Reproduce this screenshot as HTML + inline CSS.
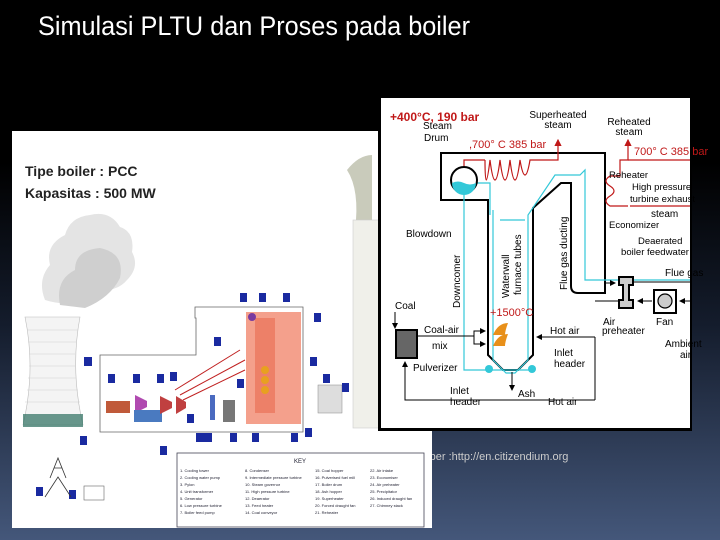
<!DOCTYPE html>
<html><head><meta charset="utf-8"><style>
html,body{margin:0;padding:0;width:720px;height:540px;overflow:hidden;background:#000}
svg{display:block}
text{font-family:"Liberation Sans",sans-serif}
</style></head><body>
<svg width="720" height="540" viewBox="0 0 720 540" xmlns="http://www.w3.org/2000/svg">
<defs>
<linearGradient id="bg" x1="0" y1="0" x2="0" y2="1">
<stop offset="0" stop-color="#000"/><stop offset="0.3" stop-color="#000"/><stop offset="0.6" stop-color="#141c2c"/><stop offset="1" stop-color="#44577a"/>
</linearGradient>
<marker id="ab" markerWidth="6" markerHeight="6" refX="5" refY="3" orient="auto"><path d="M0,0L6,3L0,6z" fill="#000"/></marker>
<marker id="ar" markerWidth="6" markerHeight="6" refX="5" refY="3" orient="auto"><path d="M0,0L6,3L0,6z" fill="#c01818"/></marker>
</defs>
<rect width="720" height="540" fill="url(#bg)"/>
<text x="38" y="35" fill="#fff" font-family="Liberation Serif,serif" font-size="27" textLength="432" lengthAdjust="spacingAndGlyphs">Simulasi PLTU dan Proses pada boiler</text>
<text x="407" y="460" fill="#ccc" font-family="Liberation Serif,serif" font-size="11">Sumber :http://en.citizendium.org</text>

<rect x="12" y="131" width="420" height="397" fill="#fff"/>
<path d="M45,300 q-8,-20 5,-35 q-5,-20 15,-30 q5,-18 25,-20 q20,-5 30,12 q15,5 12,25 q8,15 -5,28 q-10,12 -30,10 q-20,20 -52,10z" fill="#e4e4e4"/>
<path d="M60,305 q-5,-25 15,-35 q0,-20 25,-22 q25,5 20,30 q-10,20 -35,30z" fill="#cfcfcf"/>
<path d="M25,317 L80,317 Q70,370 83,425 L23,425 Q36,370 25,317z" fill="#f4f4f4" stroke="#bbb" stroke-width="0.6"/>
<g stroke="#d0d0d0" stroke-width="0.6"><line x1="27" y1="330" x2="78" y2="330"/><line x1="28" y1="342" x2="76" y2="342"/><line x1="29" y1="354" x2="75" y2="354"/><line x1="29" y1="366" x2="75" y2="366"/><line x1="28" y1="378" x2="76" y2="378"/><line x1="27" y1="390" x2="78" y2="390"/><line x1="25" y1="402" x2="80" y2="402"/></g>
<rect x="23" y="414" width="60" height="13" fill="#2b6e5e" opacity="0.7"/>
<path d="M355,230 q5,-40 -8,-60 q12,-15 25,-15 l0,75z" fill="#c9cbbb"/>
<rect x="353" y="220" width="26" height="208" fill="#f0f0ea" stroke="#ccc" stroke-width="0.6"/>
<path d="M100,432 V355 H196 V318 H195 V307 H303 V432z" fill="none" stroke="#666" stroke-width="0.8"/>
<rect x="246" y="312" width="55" height="112" fill="#f4a08c"/>
<rect x="255" y="318" width="20" height="95" fill="#e86b50" opacity="0.6"/>
<circle cx="252" cy="317" r="4" fill="#7a3aa0"/>
<g fill="#e8a020"><circle cx="265" cy="370" r="4"/><circle cx="265" cy="380" r="4"/><circle cx="265" cy="390" r="4"/></g>
<g stroke="#c02020" stroke-width="1" fill="none"><line x1="175" y1="390" x2="240" y2="350"/><line x1="180" y1="395" x2="245" y2="360"/><line x1="183" y1="400" x2="245" y2="370"/></g>
<rect x="106" y="401" width="24" height="12" fill="#c05a3a"/>
<path d="M135,395 l12,6 l0,6 l-12,6z" fill="#b04ab0"/>
<rect x="134" y="410" width="28" height="12" fill="#4a7ac0"/>
<path d="M160,396 l12,6 l0,6 l-12,6z" fill="#c04040"/><path d="M176,396 l10,6 l0,6 l-10,6z" fill="#c04040"/>
<rect x="210" y="395" width="5" height="25" fill="#4a6ac0"/>
<rect x="223" y="400" width="12" height="22" fill="#777"/>
<rect x="318" y="385" width="24" height="28" fill="#ddd" stroke="#888" stroke-width="0.5"/>
<g fill="#1a2aa0"><rect x="84" y="357" width="8" height="9"/><rect x="108" y="374" width="7" height="9"/><rect x="133" y="374" width="7" height="9"/><rect x="157" y="374" width="7" height="9"/><rect x="170" y="372" width="7" height="9"/><rect x="187" y="414" width="7" height="9"/><rect x="240" y="293" width="7" height="9"/><rect x="259" y="293" width="7" height="9"/><rect x="283" y="293" width="7" height="9"/><rect x="314" y="313" width="7" height="9"/><rect x="214" y="337" width="7" height="9"/><rect x="310" y="357" width="7" height="9"/><rect x="237" y="379" width="7" height="9"/><rect x="323" y="374" width="7" height="9"/><rect x="342" y="383" width="7" height="9"/><rect x="196" y="433" width="16" height="9"/><rect x="230" y="433" width="7" height="9"/><rect x="252" y="433" width="7" height="9"/><rect x="291" y="433" width="7" height="9"/><rect x="305" y="428" width="7" height="9"/><rect x="80" y="436" width="7" height="9"/><rect x="160" y="446" width="7" height="9"/><rect x="36" y="487" width="7" height="9"/><rect x="69" y="490" width="7" height="9"/></g>
<path d="M50,478 l8,-20 l8,20 M54,468 h8 M45,497 l13,-20 l13,20" stroke="#333" fill="none" stroke-width="0.8"/>
<rect x="84" y="486" width="20" height="14" fill="#fff" stroke="#666" stroke-width="0.6"/>
<rect x="177" y="453" width="247" height="74" fill="#fff" stroke="#445" stroke-width="0.8"/>
<text x="300" y="463" font-size="6" text-anchor="middle" fill="#223">KEY</text>
<g font-size="4" fill="#223">
<text x="180" y="472">1. Cooling tower</text><text x="180" y="479">2. Cooling water pump</text><text x="180" y="486">3. Pylon</text><text x="180" y="493">4. Unit transformer</text><text x="180" y="500">5. Generator</text><text x="180" y="507">6. Low pressure turbine</text><text x="180" y="514">7. Boiler feed pump</text>
<text x="245" y="472">8. Condenser</text><text x="245" y="479">9. Intermediate pressure turbine</text><text x="245" y="486">10. Steam governor</text><text x="245" y="493">11. High pressure turbine</text><text x="245" y="500">12. Deaerator</text><text x="245" y="507">13. Feed heater</text><text x="245" y="514">14. Coal conveyor</text>
<text x="315" y="472">15. Coal hopper</text><text x="315" y="479">16. Pulverised fuel mill</text><text x="315" y="486">17. Boiler drum</text><text x="315" y="493">18. Ash hopper</text><text x="315" y="500">19. Superheater</text><text x="315" y="507">20. Forced draught fan</text><text x="315" y="514">21. Reheater</text>
<text x="370" y="472">22. Air intake</text><text x="370" y="479">23. Economiser</text><text x="370" y="486">24. Air preheater</text><text x="370" y="493">25. Precipitator</text><text x="370" y="500">26. Induced draught fan</text><text x="370" y="507">27. Chimney stack</text>
</g>
<text x="25" y="176" font-size="14" font-weight="bold" fill="#222">Tipe boiler : PCC</text>
<text x="25" y="198" font-size="14" font-weight="bold" fill="#222">Kapasitas : 500 MW</text>

<rect x="378" y="96" width="314" height="335" fill="#000"/>
<rect x="381" y="98" width="309" height="330" fill="#fff"/>
<g fill="none" stroke="#000" stroke-width="2">
<path d="M441,153 H605 V293 H578 Q571,293 571,286 V183 L561,183 L533,208 V355 L518,370 H503 L488,355 V200 H441z"/>
</g>
<g fill="none" stroke="#33c8d8" stroke-width="1.2">
<path d="M464,193 V370 H533 M493,210 V360 L506,373 H515 L528,360 V215 L555,175 H580 L585,170 V280 H690"/>
<path d="M470,183 H490 V215 M500,220 H525"/>
</g>
<circle cx="464" cy="180" r="13" fill="#fff" stroke="#000" stroke-width="2"/>
<path d="M452,183 q6,-3 12,0 q6,3 12,0 a12,12 0 0 1 -24,0z" fill="#33c8d8"/>
<g fill="none" stroke="#c01818" stroke-width="1.2">
<path d="M464,166 V160 H485 M485,160 q0,40 5,0 q5,40 10,0 q5,40 10,0 q5,40 10,0 q5,30 10,0 H558 V140" marker-end="url(#ar)"/>
<path d="M628,206 H610 q-8,-5 0,-10 q8,-5 0,-10 q-8,-5 0,-10 h10 V160 H628 V140" marker-end="url(#ar)"/>
<path d="M690,206 H630"/>
<path d="M628,160 H690"/>
</g>
<g fill="none" stroke="#000" stroke-width="1">
<path d="M395,312 V328" marker-end="url(#ab)"/>
<path d="M417,336 H474 V331 H485" marker-end="url(#ab)"/><path d="M474,336 V344 H485" marker-end="url(#ab)"/>
<path d="M595,337 H537" marker-end="url(#ab)"/>
<path d="M595,400 H405 V362" marker-end="url(#ab)"/>
<path d="M595,337 V400 M595,301 H618"/>
<path d="M652,301 H638" marker-end="url(#ab)"/>
<path d="M690,301 H680" marker-end="url(#ab)"/>
<path d="M634,282 H690"/>
<path d="M512,372 V390" marker-end="url(#ab)"/>
<path d="M605,283 H615" marker-end="url(#ab)"/>
</g>
<rect x="396" y="330" width="21" height="28" fill="#666" stroke="#000" stroke-width="2"/>
<path d="M619,277 H633 V285 H629 V300 H633 V308 H619 V300 H623 V285 H619z" fill="#ccc" stroke="#000" stroke-width="2"/>
<rect x="654" y="290" width="22" height="23" fill="#fff" stroke="#000" stroke-width="2"/>
<circle cx="665" cy="301" r="7" fill="#ccc" stroke="#000" stroke-width="1.2"/>
<circle cx="489" cy="369" r="4" fill="#33c8d8"/><circle cx="532" cy="369" r="4" fill="#33c8d8"/>
<g fill="#e8901a"><path d="M493,335 q5,-12 15,-12 q-3,8 -3,12z"/><path d="M493,346 q5,-12 15,-12 q-3,8 -3,12z"/></g>
<g fill="#000" font-size="10">
<text x="423" y="129">Steam</text><text x="424" y="141">Drum</text>
<text x="558" y="118" text-anchor="middle">Superheated</text><text x="558" y="128" text-anchor="middle">steam</text>
<text x="629" y="125" text-anchor="middle">Reheated</text><text x="629" y="135" text-anchor="middle">steam</text>
<text x="609" y="178" font-size="9.5">Reheater</text>
<text x="632" y="190" font-size="9.5">High pressure</text><text x="630" y="202" font-size="9.5">turbine exhaust</text>
<text x="651" y="217">steam</text>
<text x="609" y="228" font-size="9.5">Economizer</text>
<text x="638" y="244" font-size="9.5">Deaerated</text><text x="621" y="255" font-size="9" textLength="68" lengthAdjust="spacingAndGlyphs">boiler feedwater</text>
<text x="665" y="276">Flue gas</text>
<text x="406" y="237">Blowdown</text>
<text x="395" y="309">Coal</text>
<text x="424" y="333">Coal-air</text><text x="432" y="349">mix</text>
<text x="550" y="334">Hot air</text>
<text x="603" y="325">Air</text><text x="602" y="334">preheater</text>
<text x="656" y="325">Fan</text>
<text x="665" y="347">Ambient</text><text x="680" y="358">air</text>
<text x="554" y="356">Inlet</text><text x="554" y="367">header</text>
<text x="413" y="371">Pulverizer</text>
<text x="450" y="394">Inlet</text><text x="450" y="405">header</text>
<text x="518" y="397">Ash</text>
<text x="548" y="405">Hot air</text>
<text transform="translate(460,308) rotate(-90)">Downcomer</text>
<text transform="translate(509,298) rotate(-90)">Waterwall</text>
<text transform="translate(521,295) rotate(-90)">furnace tubes</text>
<text transform="translate(567,290) rotate(-90)">Flue gas ducting</text>
</g>
<g fill="#c01818">
<text x="390" y="121" font-size="12" font-weight="bold" font-family="Liberation Serif,serif">+400°C, 190 bar</text>
<text x="469" y="148" font-size="11" font-family="Liberation Serif,serif">,700° C 385 bar</text>
<text x="634" y="155" font-size="11" font-family="Liberation Serif,serif">700° C 385 bar</text>
<text x="490" y="316" font-size="11" font-family="Liberation Serif,serif">+1500°C</text>
</g>
</svg>
</body></html>
